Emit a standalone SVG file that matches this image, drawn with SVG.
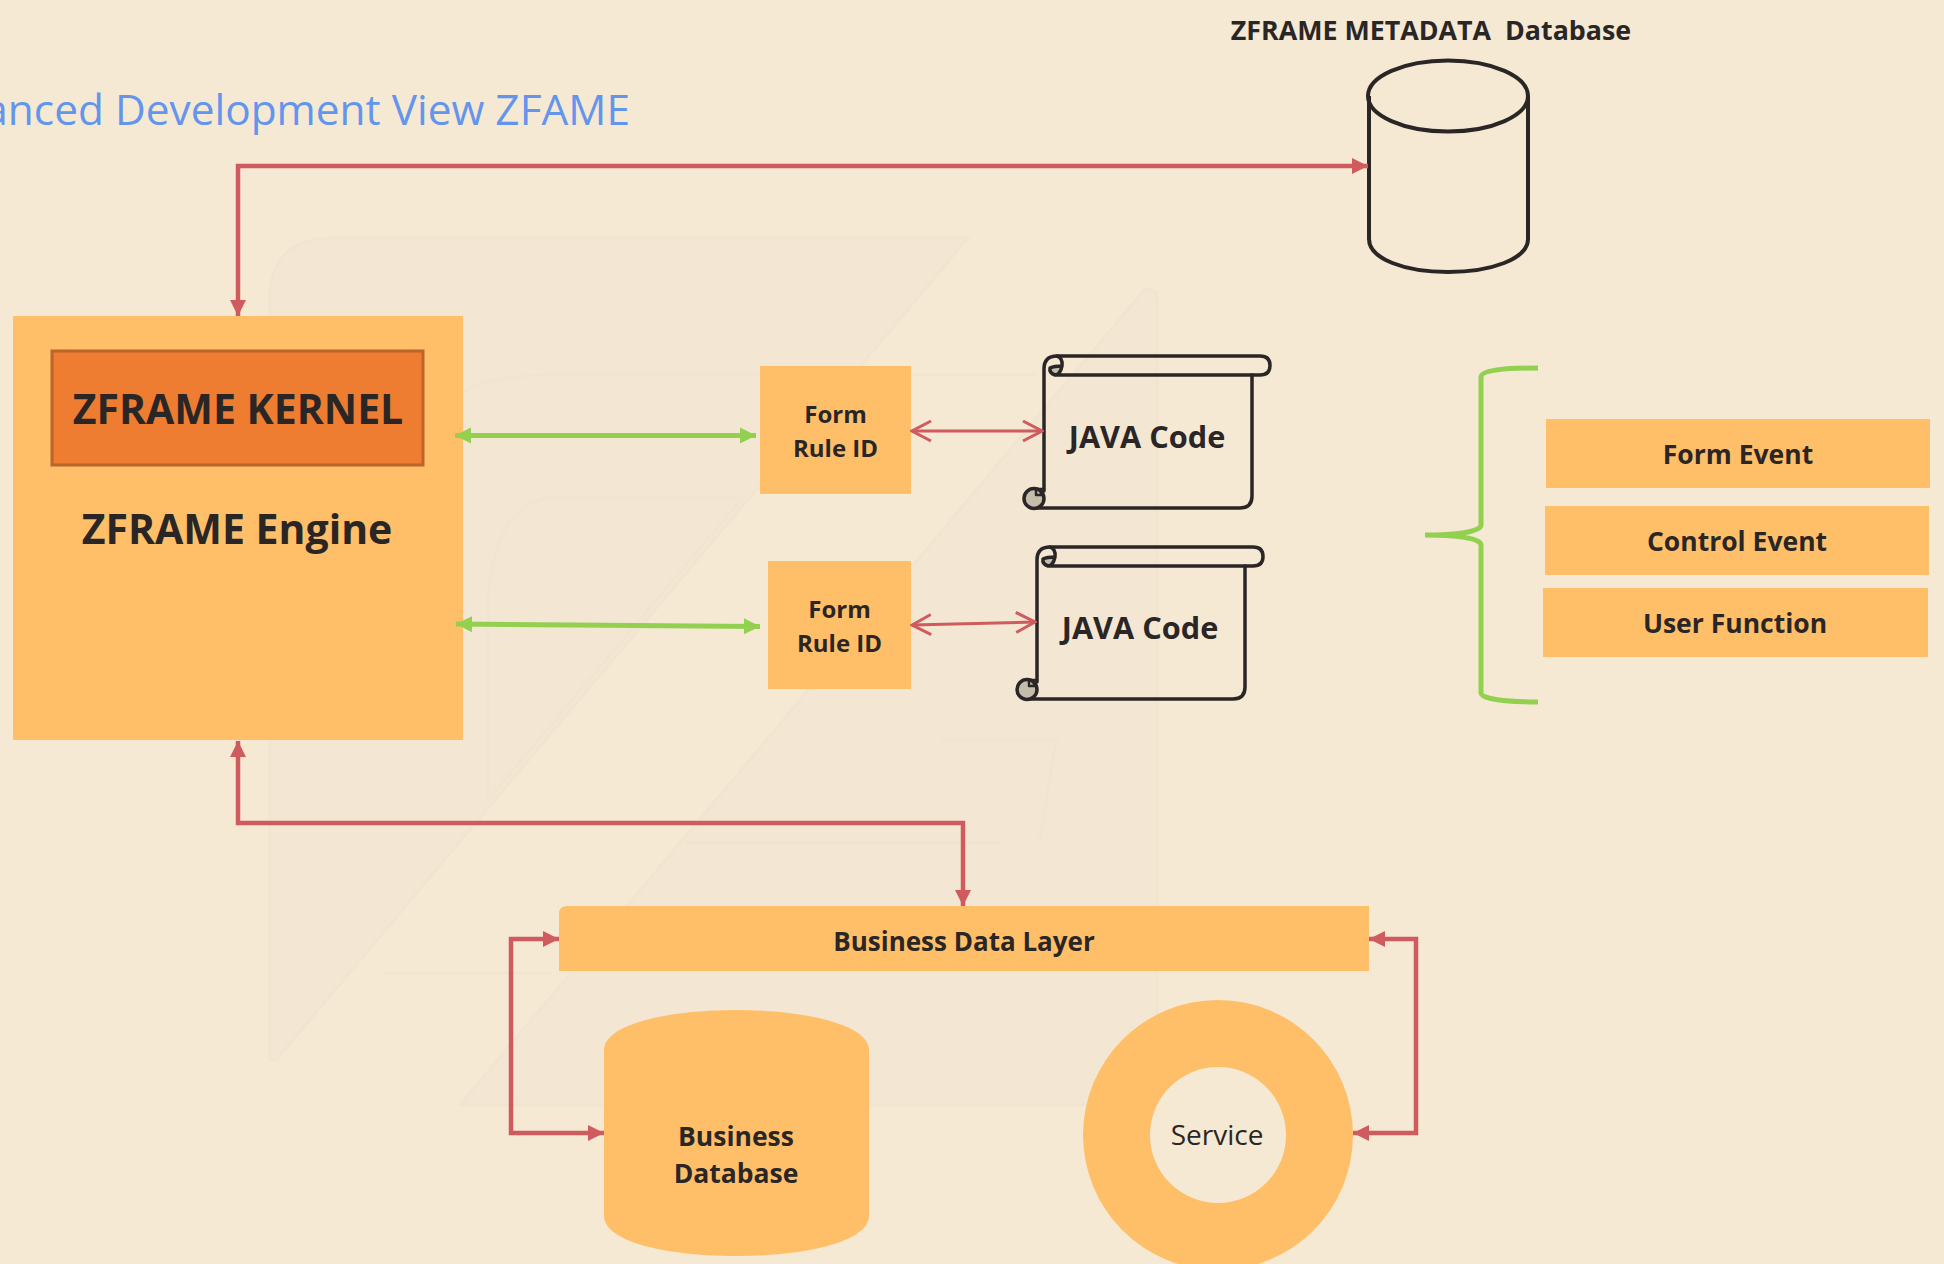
<svg xmlns="http://www.w3.org/2000/svg" width="1944" height="1264" viewBox="0 0 1944 1264">
<style>
text{font-family:"Open Sans","Noto Sans","Liberation Sans",sans-serif;fill:#2b2626;text-anchor:middle}
.b{font-weight:700}
.box{fill:#ffbf69}
.red{fill:none;stroke:#cf5b5e;stroke-width:4.5}
.thin{fill:none;stroke:#cf5b5e;stroke-width:3}
.grn{fill:none;stroke:#92d050;stroke-width:5}
.ink{fill:none;stroke:#2b2626;stroke-width:3.5;stroke-linejoin:round;stroke-linecap:round}
.curl{fill:#c4bdac;stroke:#2b2626;stroke-width:3.5}
.wm{fill:#f3e7d3;stroke:#f1e5d1;stroke-width:3}
.wl{fill:none;stroke:#f1e5d1;stroke-width:3}
</style>
<defs>
<marker id="r" markerUnits="userSpaceOnUse" markerWidth="18" markerHeight="18" refX="16" refY="9" orient="auto-start-reverse"><path d="M0 1L16 9L0 17Z" fill="#cf5b5e"/></marker>
<marker id="g" markerUnits="userSpaceOnUse" markerWidth="18" markerHeight="18" refX="16" refY="9" orient="auto-start-reverse"><path d="M0 1L16 9L0 17Z" fill="#92d050"/></marker>
<marker id="o" markerUnits="userSpaceOnUse" markerWidth="22" markerHeight="24" refX="20" refY="12" orient="auto-start-reverse"><path d="M1 2L20 12L1 22" fill="none" stroke="#cf5b5e" stroke-width="3"/></marker>
<g id="scroll">
<path class="curl" style="stroke:none" d="M1050 367H1062Q1061 374 1055 374Q1050 373 1050 367Z"/>
<path class="ink" d="M1044 490V368Q1044 355 1057 355H1260Q1270 355 1270 364.500T1260 374H1252V495Q1252 507 1240 507H1034"/>
<path class="ink" d="M1057 355Q1063 357 1062 365Q1060 374 1055 374Q1049 372 1050 367Q1054 365 1062 365M1055 374H1252"/>
<circle class="curl" cx="1034" cy="497.500" r="10"/>
<path class="ink" style="stroke-width:2.500" d="M1044 488H1036V494H1041V488"/>
</g>
</defs>
<rect width="1944" height="1264" fill="#f5e9d3"/>
<g id="watermark">
<path class="wm" d="M270 1060V290Q275 238 335 238H968L276 1060Z"/>
<path class="wm" d="M1157 300V1090Q1157 1105 1130 1105H460L1140 295Q1153 280 1157 300Z"/>
<path class="wm" d="M488 600Q495 497 560 497H743L488 800Z"/>
<path class="wl" d="M460 393Q490 375 554 375H1036M686 843H1000M383 973H552M940 740H1056L1040 840M1157 290V1105"/>
</g>
<text x="630" y="125" font-size="42.400" style="fill:#6495ed;text-anchor:end" id="title">anced Development View ZFAME</text>
<g id="metadata-db">
<path d="M1369 96V239C1369 259 1405 272 1448 272S1528 259 1528 239V96" fill="none" stroke="#2b2626" stroke-width="4"/>
<ellipse cx="1448" cy="96" rx="80" ry="35.500" fill="none" stroke="#2b2626" stroke-width="4"/>
<text class="b" x="1431" y="40" font-size="26.800">ZFRAME METADATA&#160; Database</text>
</g>
<g id="engine">
<rect class="box" x="13" y="316" width="450" height="424"/>
<rect x="52" y="351" width="371" height="114" fill="#ee7d31" stroke="#b9652b" stroke-width="3"/>
<text class="b" x="238" y="424" font-size="41">ZFRAME KERNEL</text>
<text class="b" x="237" y="544" font-size="41">ZFRAME Engine</text>
</g>
<g id="form1"><rect class="box" x="760" y="366" width="151" height="128"/><text class="b" x="835.500" y="423" font-size="24">Form</text><text class="b" x="835.500" y="457" font-size="24">Rule ID</text></g>
<g id="form2"><rect class="box" x="768" y="561" width="143" height="128"/><text class="b" x="839.500" y="618" font-size="24">Form</text><text class="b" x="839.500" y="652" font-size="24">Rule ID</text></g>
<g id="java1">
<use href="#scroll" transform="translate(0 1)"/>
<text class="b" x="1147" y="448" font-size="30.700">JAVA Code</text>
</g>
<g id="java2">
<use href="#scroll" transform="translate(-7 192)"/>
<text class="b" x="1140" y="639" font-size="30.700">JAVA Code</text>
</g>
<g id="brace"><path class="grn" d="M1538 368C1505 368 1481 370 1481 377V525C1481 532 1455 535 1425 535C1455 535 1481 538 1481 545V693C1481 699 1505 702 1538 702"/></g>
<g id="form-event"><rect class="box" x="1546" y="419" width="384" height="69"/><text class="b" x="1738" y="464" font-size="26.500">Form Event</text></g>
<g id="control-event"><rect class="box" x="1545" y="506" width="384" height="69"/><text class="b" x="1737" y="551" font-size="26.500">Control Event</text></g>
<g id="user-function"><rect class="box" x="1543" y="588" width="385" height="69"/><text class="b" x="1735" y="633" font-size="26.500">User Function</text></g>
<g id="bdl"><path class="box" d="M559 914Q559 906 567 906H1369V971H559Z"/><text class="b" x="964" y="951" font-size="26">Business Data Layer</text></g>
<g id="business-db"><path class="box" d="M604 1050C604 1025 665 1010 736 1010S869 1025 869 1050V1216C869 1241 808 1256 736 1256S604 1241 604 1216Z"/><text class="b" x="736" y="1146" font-size="26.500">Business</text><text class="b" x="736" y="1183" font-size="26.500">Database</text></g>
<g id="service"><path class="box" fill-rule="evenodd" d="M1083 1135a135 135 0 1 0 270 0a135 135 0 1 0 -270 0ZM1150 1135a68 68 0 1 0 136 0a68 68 0 1 0 -136 0Z"/><text x="1217" y="1145" font-size="28">Service</text></g>
<g id="connectors">
<path class="red" d="M238 316V166H1368" marker-start="url(#r)" marker-end="url(#r)"/>
<path class="red" d="M238 741V823H963V906" marker-start="url(#r)" marker-end="url(#r)"/>
<path class="red" d="M559 939H511V1133H604" marker-start="url(#r)" marker-end="url(#r)"/>
<path class="red" d="M1369 939H1416V1133H1353" marker-start="url(#r)" marker-end="url(#r)"/>
<path class="grn" d="M455 435.500H756" marker-start="url(#g)" marker-end="url(#g)"/>
<path class="grn" d="M456 624L760 626.500" marker-start="url(#g)" marker-end="url(#g)"/>
<path class="thin" d="M912 431H1042" marker-start="url(#o)" marker-end="url(#o)"/>
<path class="thin" d="M912 625L1035 622" marker-start="url(#o)" marker-end="url(#o)"/>
</g>
</svg>
